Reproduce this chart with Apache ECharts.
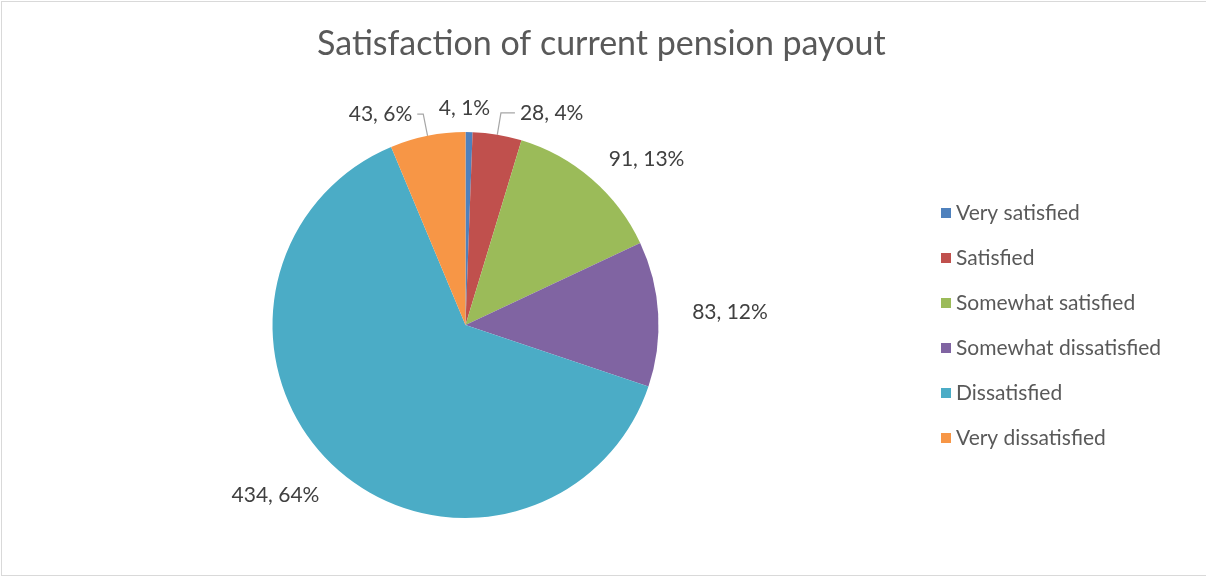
<!DOCTYPE html>
<html>
<head>
<meta charset="utf-8">
<script src="https://cdn.jsdelivr.net/npm/echarts@6/dist/echarts.min.js"></script>
<style>
  html, body { margin: 0; padding: 0; background: #fff; }
  #chart { position: absolute; left: 1px; top: 1px; width: 1205px; height: 575px;
           border-left: 1px solid #d9d9d9; border-top: 1px solid #d9d9d9;
           border-bottom: 1px solid #d9d9d9; box-sizing: border-box; }
</style>
</head>
<body>
<div id="chart"></div>
<script>
// Survey answers: satisfaction with the current pension payout
const categories = ['Very satisfied', 'Satisfied', 'Somewhat satisfied',
                    'Somewhat dissatisfied', 'Dissatisfied', 'Very dissatisfied'];
const counts = [4, 28, 91, 83, 434, 43];
const colors = ['#4F81BD', '#C0504D', '#9BBB59', '#8064A2', '#4BACC6', '#F79646'];
// slices whose label is joined to the pie by a leader line
const withLeader = [false, true, false, false, false, true];
// radial and horizontal reach of each label from its slice edge
const leadLen  = [24, 22, 26, 29, 39, 22];
const leadLen2 = [-10, 14, -5, 0, -17, 6];

const font = 'Lato, "Open Sans", sans-serif';
const chart = echarts.init(document.getElementById('chart'));

chart.setOption({
  animation: false,
  title: {
    text: 'Satisfaction of current pension payout',
    left: 310, top: 20,
    textStyle: { fontFamily: font, fontSize: 34, fontWeight: 'normal', color: '#595959' }
  },
  legend: {
    orient: 'vertical',
    left: 934, top: 195,
    itemWidth: 10, itemHeight: 10, itemGap: 23,
    icon: 'rect',
    textStyle: { fontFamily: font, fontSize: 21, color: '#595959', lineHeight: 22 },
    data: categories
  },
  series: [{
    type: 'pie',
    center: [463.5, 323],
    radius: 193,
    startAngle: 90,
    clockwise: true,
    percentPrecision: 0,
    avoidLabelOverlap: false,
    label: {
      show: true,
      position: 'outside',
      formatter: '{c}, {d}%',
      fontFamily: font, fontSize: 21, color: '#404040'
    },
    labelLine: { show: true, lineStyle: { color: '#a6a6a6', width: 1.2 } },
    labelLayout: (p) => (p.dataIndex === 0 ? { align: 'center' } : {}),
    data: categories.map((name, i) => ({
      name,
      value: counts[i],
      itemStyle: { color: colors[i] },
      labelLine: { show: withLeader[i], length: leadLen[i], length2: leadLen2[i] }
    }))
  }]
});
</script>
</body>
</html>
